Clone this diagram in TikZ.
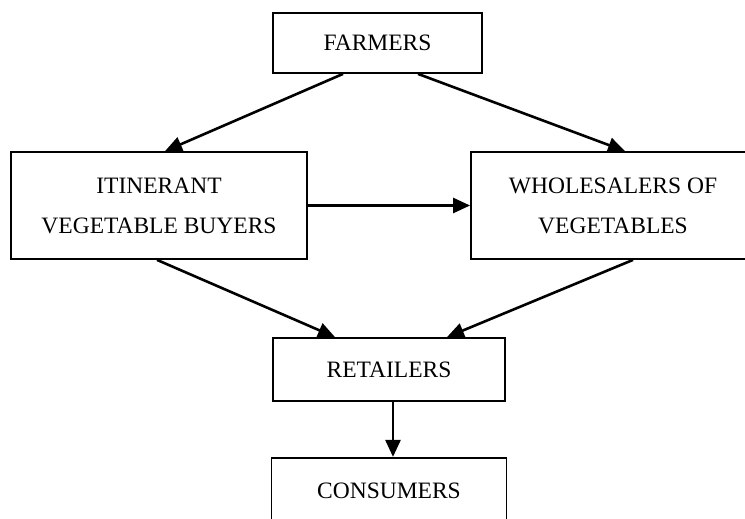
\documentclass[tikz,border=0pt]{standalone}
\usepackage{fontspec}
\setmainfont{Liberation Serif}
\usepackage{tikz}
\usetikzlibrary{arrows.meta, positioning}

\begin{document}
\begin{tikzpicture}[
  x=1pt, y=-1pt,
  box/.style = {
    draw, line width=1.8pt, minimum width=#1,
    align=center, inner sep=0pt,
    font=\fontsize{23.5}{40}\selectfont
  },
  arr/.style = {-{Triangle[length=17pt,width=15pt]}, line width=2.6pt},
  node distance = 55pt
]
\clip (0,0) rectangle (745,519);

\node[box=209pt, minimum height=60pt]  (farmers)     at (377.5,43)  {FARMERS};
\node[box=296pt, minimum height=107pt] (itinerant)   at (159,205.5) {ITINERANT\\VEGETABLE BUYERS};
\node[box=284pt, minimum height=107pt] (wholesalers) at (613,205.5) {WHOLESALERS OF\\VEGETABLES};
\node[box=232pt, minimum height=63pt]  (retailers)   at (389,369.5) {RETAILERS};
\node[box=235pt, minimum height=66pt, below=of retailers] (consumers) {CONSUMERS};

\draw[arr] ([xshift=-34.5pt]farmers.south) -- ([xshift=6pt]itinerant.north);
\draw[arr] ([xshift=40.5pt]farmers.south) -- ([xshift=12pt]wholesalers.north);
\draw[arr] (itinerant.east) -- (wholesalers.west);
\draw[arr] ([xshift=-2pt]itinerant.south) -- ([xshift=-54pt]retailers.north);
\draw[arr] ([xshift=20pt]wholesalers.south) -- ([xshift=58pt]retailers.north);
\draw[arr] ([xshift=4pt]retailers.south) -- ([xshift=4pt]retailers.south |- consumers.north);

\end{tikzpicture}
\end{document}
